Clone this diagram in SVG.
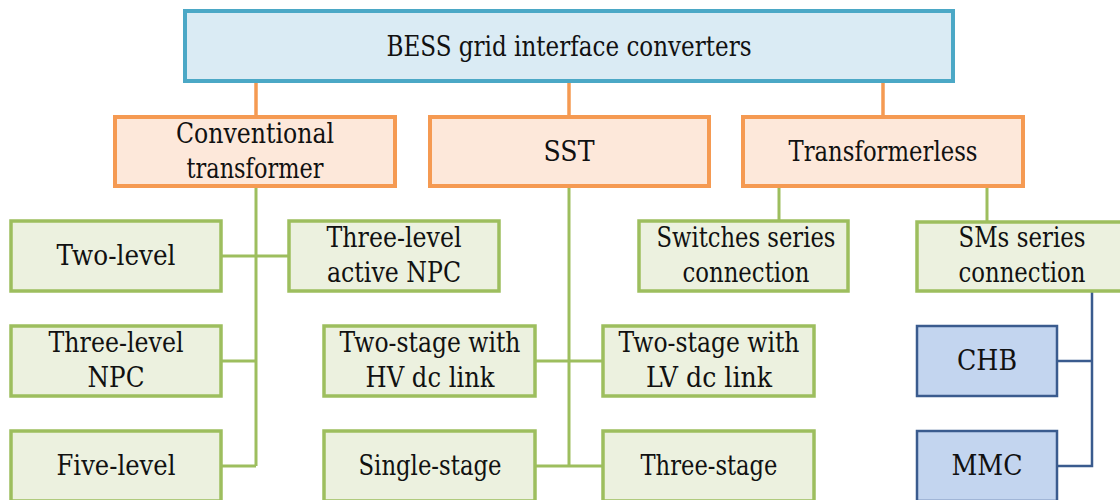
<svg xmlns="http://www.w3.org/2000/svg" width="1120" height="500" viewBox="0 0 1120 500">
<style>
text{font-family:'DejaVu Serif','Liberation Serif',serif;font-size:27.5px;fill:#111;text-anchor:middle}
.top{fill:#DAEBF4;stroke:#4BA8C6;stroke-width:4}
.or{fill:#FDE8DA;stroke:#F59A52;stroke-width:4}
.gr{fill:#ECF1DF;stroke:#9DBE5E;stroke-width:3.5}
.bl{fill:#C3D5EF;stroke:#3A5B8E;stroke-width:2.5}
.co{fill:none;stroke:#F59A52;stroke-width:3.5}
.cg{fill:none;stroke:#9DBE5E;stroke-width:3}
.cb{fill:none;stroke:#3A5B8E;stroke-width:2.5}
</style>
<rect width="1120" height="500" fill="#fff"/>
<g id="connectors">
<path class="co" d="M256 81V117M569 81V117M883 81V117"/>
<path class="cg" d="M256 186V466M221 256H289M221 361H256M221 466H256"/>
<path class="cg" d="M569 186V466M535 361H603M535 466H603"/>
<path class="cg" d="M779 186V221M987 186V222"/>
<path class="cb" d="M1092 291V466H1057M1057 361H1092"/>
</g>
<g id="root"><rect class="top" x="185" y="11" width="768" height="70"/><text x="569" y="56" textLength="365" lengthAdjust="spacingAndGlyphs">BESS grid interface converters</text></g>
<g id="conv"><rect class="or" x="115" y="117" width="280" height="69"/><text x="255" y="143" textLength="158" lengthAdjust="spacingAndGlyphs">Conventional</text><text x="255" y="178" textLength="137" lengthAdjust="spacingAndGlyphs">transformer</text></g>
<g id="sst"><rect class="or" x="430" y="117" width="279" height="69"/><text x="569" y="161" textLength="51" lengthAdjust="spacingAndGlyphs">SST</text></g>
<g id="tl"><rect class="or" x="743" y="117" width="280" height="69"/><text x="883" y="161" textLength="189" lengthAdjust="spacingAndGlyphs">Transformerless</text></g>
<g id="twolevel"><rect class="gr" x="11" y="221" width="210" height="70"/><text x="116" y="265" textLength="119" lengthAdjust="spacingAndGlyphs">Two-level</text></g>
<g id="anpc"><rect class="gr" x="289" y="221" width="210" height="70"/><text x="394" y="247" textLength="135" lengthAdjust="spacingAndGlyphs">Three-level</text><text x="394" y="282" textLength="134" lengthAdjust="spacingAndGlyphs">active NPC</text></g>
<g id="npc"><rect class="gr" x="11" y="326" width="210" height="70"/><text x="116" y="352" textLength="135" lengthAdjust="spacingAndGlyphs">Three-level</text><text x="116" y="387" textLength="57" lengthAdjust="spacingAndGlyphs">NPC</text></g>
<g id="fivelevel"><rect class="gr" x="11" y="431" width="210" height="70"/><text x="116" y="475" textLength="119" lengthAdjust="spacingAndGlyphs">Five-level</text></g>
<g id="hv"><rect class="gr" x="324" y="326" width="211" height="70"/><text x="430" y="352" textLength="181" lengthAdjust="spacingAndGlyphs">Two-stage with</text><text x="430" y="387" textLength="129" lengthAdjust="spacingAndGlyphs">HV dc link</text></g>
<g id="single"><rect class="gr" x="324" y="431" width="211" height="70"/><text x="430" y="475" textLength="143" lengthAdjust="spacingAndGlyphs">Single-stage</text></g>
<g id="lv"><rect class="gr" x="603" y="326" width="211" height="70"/><text x="709" y="352" textLength="181" lengthAdjust="spacingAndGlyphs">Two-stage with</text><text x="709" y="387" textLength="126" lengthAdjust="spacingAndGlyphs">LV dc link</text></g>
<g id="three"><rect class="gr" x="603" y="431" width="211" height="70"/><text x="709" y="475" textLength="137" lengthAdjust="spacingAndGlyphs">Three-stage</text></g>
<g id="switches"><rect class="gr" x="639" y="221" width="209" height="70"/><text x="746" y="247" textLength="179" lengthAdjust="spacingAndGlyphs">Switches series</text><text x="746" y="282" textLength="127" lengthAdjust="spacingAndGlyphs">connection</text></g>
<g id="sms"><rect class="gr" x="917" y="222" width="210" height="69"/><text x="1022" y="247" textLength="127" lengthAdjust="spacingAndGlyphs">SMs series</text><text x="1022" y="282" textLength="127" lengthAdjust="spacingAndGlyphs">connection</text></g>
<g id="chb"><rect class="bl" x="917" y="326" width="140" height="70"/><text x="987" y="370" textLength="60" lengthAdjust="spacingAndGlyphs">CHB</text></g>
<g id="mmc"><rect class="bl" x="917" y="431" width="140" height="70"/><text x="987" y="475" textLength="71" lengthAdjust="spacingAndGlyphs">MMC</text></g>
</svg>
